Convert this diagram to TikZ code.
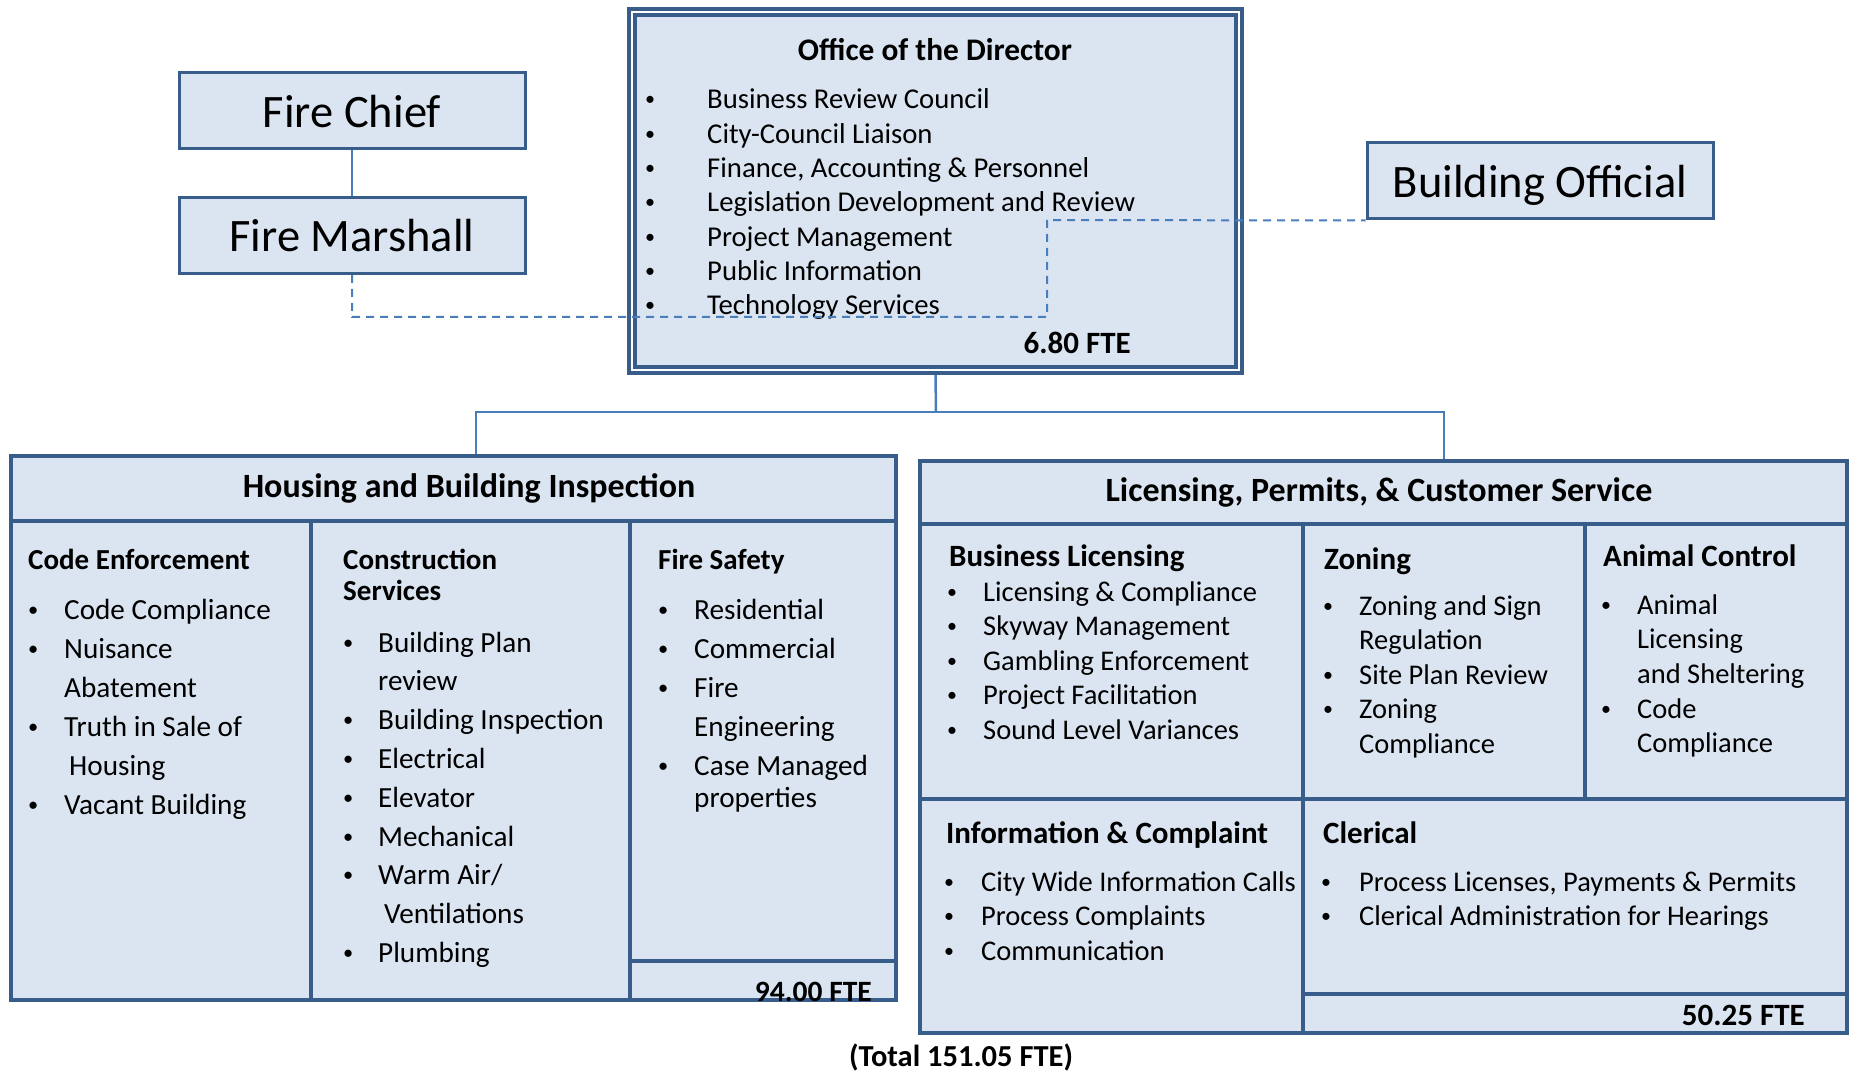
\documentclass[tikz,border=0pt]{standalone}
\usepackage{fontspec}
\setmainfont{Carlito}
\definecolor{boxfill}{HTML}{DBE5F1}
\definecolor{boxline}{HTML}{385D8A}
\definecolor{linkblue}{HTML}{4A7EBB}
\newcommand{\dotitem}{\raisebox{3pt}{\scalebox{0.7}{\textbullet}}}
\tikzset{
  cellbox/.style={draw=boxline, fill=boxfill, line width=4pt, inner sep=0pt},
  postbox/.style={draw=boxline, fill=boxfill, line width=3pt, minimum width=346pt,
    minimum height=76pt, text depth=0pt, font=\fontsize{46.5}{55}\selectfont},
  linkline/.style={draw=linkblue, line width=2.5pt},
  dashlink/.style={draw=linkblue, line width=2pt, dash pattern=on 8pt off 6pt},
  headtext/.style={anchor=base west, inner sep=0pt, font=\fontsize{29}{31}\selectfont\bfseries},
  titletext/.style={anchor=base, inner sep=0pt, font=\fontsize{34}{40}\selectfont\bfseries},
  ftetext/.style={anchor=base east, inner sep=0pt, font=\fontsize{31}{36}\selectfont\bfseries},
  listtext/.style={anchor=base west, inner sep=0pt},
}
\begin{document}
\begin{tikzpicture}[x=1pt, y=-1pt]
  \useasboundingbox (0,0) rectangle (1853,1075);
  % fire side
  \node[postbox] (chief) at (352,111) {Fire Chief};
  \node[postbox] (marshall) at (352,235.5) {Fire Marshall};
  \node[postbox] (official) at (1540,181) {Building Official};
  \draw[linkline] (chief) -- (marshall);
  % director
  \node[draw=boxline, fill=boxfill, line width=4pt, double=white, double distance=2pt,
    minimum width=607pt, minimum height=358pt, outer sep=5pt] (office) at (935.5,191) {};
  \node[titletext, font=\fontsize{31.4}{36}\selectfont\bfseries] (officetitle) at (935,61) {Office of the Director};
  \node[listtext, font=\fontsize{28.7}{34.3}\selectfont] (officelist) at (645,109) {%
    \begin{tabular}[t]{@{}p{62pt}@{}l@{}}
      \dotitem & Business Review Council\\
      \dotitem & City-Council Liaison\\
      \dotitem & Finance, Accounting \& Personnel\\
      \dotitem & Legislation Development and Review\\
      \dotitem & Project Management\\
      \dotitem & Public Information\\
      \dotitem & Technology Services
    \end{tabular}};
  \node[ftetext] (officefte) at (1131,353) {6.80 FTE};
  % housing and building inspection
  \node[cellbox, minimum width=885pt, minimum height=65pt] (hbihead) at (453.5,488.5) {};
  \node[cellbox, minimum width=300pt, minimum height=479pt] (codeenf) at (161,760.5) {};
  \node[cellbox, minimum width=319pt, minimum height=479pt] (constr) at (470.5,760.5) {};
  \node[cellbox, minimum width=266pt, minimum height=440pt] (firesaf) at (763,741) {};
  \node[cellbox, minimum width=266pt, minimum height=39pt] (hbifte) at (763,980.5) {};
  % licensing, permits and customer service
  \node[cellbox, minimum width=927pt, minimum height=63pt] (lpcshead) at (1383.5,492.5) {};
  \node[cellbox, minimum width=383pt, minimum height=275pt] (buslic) at (1111.5,661.5) {};
  \node[cellbox, minimum width=282pt, minimum height=275pt] (zoning) at (1444,661.5) {};
  \node[cellbox, minimum width=262pt, minimum height=275pt] (animal) at (1716,661.5) {};
  \node[cellbox, minimum width=383pt, minimum height=234pt] (infocomp) at (1111.5,916) {};
  \node[cellbox, minimum width=544pt, minimum height=195pt] (clerical) at (1575,896.5) {};
  \node[cellbox, minimum width=544pt, minimum height=39pt] (lpcsfte) at (1575,1013.5) {};
  % connectors
  \coordinate (bus) at (936,412);
  \draw[linkline] (office.south) -- (bus);
  \draw[linkline] ([xshift=22.5pt]hbihead.north) |- (bus) -| ([xshift=60.5pt]lpcshead.north);
  \coordinate (dashlow) at (1047,317);
  \coordinate (dashhigh) at (1047,220);
  \draw[dashlink] (marshall.south) |- (dashlow) -- (dashhigh) -- (official.south west);
  % texts of the left block
  \node[titletext] (hbititle) at (469,497) {Housing and Building Inspection};
  \node[headtext] (codeenfhead) at (28,569) {Code Enforcement};
  \node[listtext, font=\fontsize{29.2}{39}\selectfont] (codeenflist) at (28,619) {%
    \begin{tabular}[t]{@{}p{36pt}@{}l@{}}
      \dotitem & Code Compliance\\
      \dotitem & Nuisance\\
               & Abatement\\
      \dotitem & Truth in Sale of\\
               & \hspace{5pt}Housing\\
      \dotitem & Vacant Building
    \end{tabular}};
  \node[headtext] (constrhead) at (343,569) {%
    \begin{tabular}[t]{@{}l@{}}
      Construction\\
      Services
    \end{tabular}};
  \node[listtext, font=\fontsize{29.2}{38.8}\selectfont] (constrlist) at (343,652) {%
    \begin{tabular}[t]{@{}p{35pt}@{}l@{}}
      \dotitem & Building Plan\\
               & review\\
      \dotitem & Building Inspection\\
      \dotitem & Electrical\\
      \dotitem & Elevator\\
      \dotitem & Mechanical\\
      \dotitem & Warm Air/\\
               & \hspace{6pt}Ventilations\\
      \dotitem & Plumbing
    \end{tabular}};
  \node[headtext] (firesafhead) at (658,569) {Fire Safety};
  \node[listtext, font=\fontsize{29.2}{39}\selectfont] (firesaflist) at (658,619) {%
    \begin{tabular}[t]{@{}p{36pt}@{}l@{}}
      \dotitem & Residential\\
      \dotitem & Commercial\\
      \dotitem & Fire\\
               & Engineering\\
      \dotitem & Case Managed\\[-7pt]
               & properties
    \end{tabular}};
  \node[ftetext, font=\fontsize{29.5}{36}\selectfont\bfseries] (hbiftetext) at (872,1001) {94.00 FTE};
  % texts of the right block
  \node[titletext] (lpcstitle) at (1379,501) {Licensing, Permits, \& Customer Service};
  \node[headtext, font=\fontsize{31}{34}\selectfont\bfseries] (buslichead) at (949,566) {Business Licensing};
  \node[listtext, font=\fontsize{28.5}{34.5}\selectfont] (busliclist) at (947,601) {%
    \begin{tabular}[t]{@{}p{36pt}@{}l@{}}
      \dotitem & Licensing \& Compliance\\
      \dotitem & Skyway Management\\
      \dotitem & Gambling Enforcement\\
      \dotitem & Project Facilitation\\
      \dotitem & Sound Level Variances
    \end{tabular}};
  \node[headtext, font=\fontsize{31}{34}\selectfont\bfseries] (zoninghead) at (1324,569) {Zoning};
  \node[listtext, font=\fontsize{28.5}{34.5}\selectfont] (zoninglist) at (1323,615) {%
    \begin{tabular}[t]{@{}p{36pt}@{}l@{}}
      \dotitem & Zoning and Sign\\
               & Regulation\\
      \dotitem & Site Plan Review\\
      \dotitem & Zoning\\
               & Compliance
    \end{tabular}};
  \node[headtext, font=\fontsize{31}{34}\selectfont\bfseries] (animalhead) at (1603,566) {Animal Control};
  \node[listtext, font=\fontsize{28.5}{34.7}\selectfont] (animallist) at (1601,614) {%
    \begin{tabular}[t]{@{}p{36pt}@{}l@{}}
      \dotitem & Animal\\
               & Licensing\\
               & and Sheltering\\
      \dotitem & Code\\
               & Compliance
    \end{tabular}};
  \node[headtext, font=\fontsize{31}{34}\selectfont\bfseries] (infocomphead) at (946,843) {Information \& Complaint};
  \node[listtext, font=\fontsize{28.5}{34.5}\selectfont] (infocomplist) at (944,891) {%
    \begin{tabular}[t]{@{}p{37pt}@{}l@{}}
      \dotitem & City Wide Information Calls\\
      \dotitem & Process Complaints\\
      \dotitem & Communication
    \end{tabular}};
  \node[headtext, font=\fontsize{31}{34}\selectfont\bfseries] (clericalhead) at (1323,843) {Clerical};
  \node[listtext, font=\fontsize{28.5}{34}\selectfont] (clericallist) at (1321,891) {%
    \begin{tabular}[t]{@{}p{38pt}@{}l@{}}
      \dotitem & Process Licenses, Payments \& Permits\\
      \dotitem & Clerical Administration for Hearings
    \end{tabular}};
  \node[ftetext] (lpcsftetext) at (1805,1025) {50.25 FTE};
  \node[titletext, font=\fontsize{30.5}{36}\selectfont\bfseries] (total) at (961,1066) {(Total 151.05 FTE)};
\end{tikzpicture}
\end{document}
